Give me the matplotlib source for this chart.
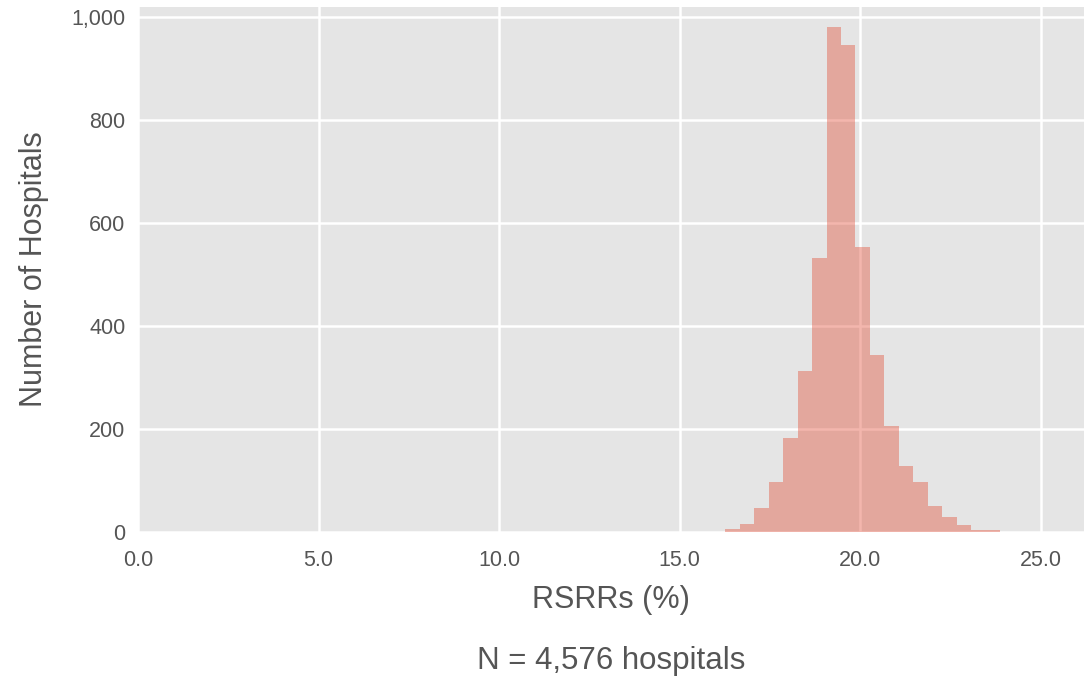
import numpy as np
import matplotlib
matplotlib.use("Agg")
import matplotlib.pyplot as plt
from matplotlib.ticker import FuncFormatter

# histogram (bin edges in %, counts of hospitals)
bin_edges = [16.27, 16.67, 17.07, 17.47, 17.87, 18.27, 18.67, 19.07, 19.47, 19.87,
             20.27, 20.67, 21.07, 21.47, 21.87, 22.27, 22.67, 23.07, 23.47, 23.87]
counts = [5, 15, 46, 97, 183, 312, 532, 982, 946, 553,
          343, 206, 128, 97, 50, 30, 14, 4, 3]
x_ticks = [0, 5, 10, 15, 20, 25]
y_ticks = [0, 200, 400, 600, 800, 1000]
n_label = "N = 4,576 hospitals"

plt.style.use('ggplot')
plt.rcParams['font.family'] = ['Liberation Sans', 'DejaVu Sans']

fig = plt.figure(figsize=(10.84, 6.77), dpi=100)
ax = fig.add_axes([0.1273, 0.2142, 0.8727, 0.7755])

centers = [(a + b) / 2 for a, b in zip(bin_edges[:-1], bin_edges[1:])]
ax.hist(centers, bins=bin_edges, weights=counts, color='#E24A33', alpha=0.4)

ax.set_facecolor('#E5E5E5')
ax.grid(True, color='white', linewidth=1.8)
ax.set_axisbelow(True)
for s in ax.spines.values():
    s.set_visible(False)

ax.set_xlim(0, 26.2)
ax.set_ylim(0, 1020)
ax.set_xticks(x_ticks)
ax.set_yticks(y_ticks)
ax.xaxis.set_major_formatter(FuncFormatter(lambda v, p: '%.1f' % v))
ax.yaxis.set_major_formatter(FuncFormatter(lambda v, p: '{:,.0f}'.format(v)))
ax.tick_params(axis='both', length=0, labelsize=15.5, colors='#555555')
ax.tick_params(axis='x', pad=13)
ax.tick_params(axis='y', pad=9)

ax.set_xlabel('RSRRs (%)', fontsize=22, color='#555555', labelpad=10)
ax.set_ylabel('Number of Hospitals', fontsize=22, color='#555555', labelpad=16)
fig.text(0.5637, 0.024, n_label, ha='center', va='center', fontsize=22.5, color='#555555')

fig.savefig('out.png', dpi=100)
